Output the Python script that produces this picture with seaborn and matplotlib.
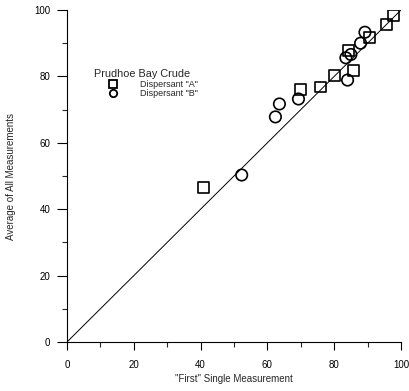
import matplotlib
matplotlib.use("Agg")
import matplotlib.pyplot as plt
import seaborn as sns
import pandas as pd
from matplotlib.ticker import MultipleLocator
from matplotlib.lines import Line2D

sns.set_style("white")
plt.rcParams['font.family'] = ['Liberation Sans', 'DejaVu Sans']

a_first = [97.7, 95.7, 90.7, 84.4, 85.7, 80.2, 76.0, 69.8, 40.9]
a_avg   = [98.3, 95.7, 91.8, 87.7, 81.9, 80.2, 76.8, 76.1, 46.6]
b_first = [89.2, 87.9, 85.0, 83.5, 84.0, 69.3, 63.6, 62.4, 52.3]
b_avg   = [93.3, 90.0, 86.6, 85.6, 78.9, 73.2, 71.7, 67.8, 50.3]
line_x = [0, 100]
line_y = [0, 100]

df_a = pd.DataFrame({"first": a_first, "avg": a_avg})
df_b = pd.DataFrame({"first": b_first, "avg": b_avg})

fig = plt.figure(figsize=(4.09, 3.91), dpi=100)
ax = fig.add_axes([67/409, 49/391, 334/409, 332/391])

sns.lineplot(x=line_x, y=line_y, ax=ax, color="black", linewidth=0.7)
sns.scatterplot(data=df_a, x="first", y="avg", ax=ax, marker="s", s=62,
                facecolor="none", edgecolor="black", linewidth=1.2, zorder=3)
sns.scatterplot(data=df_b, x="first", y="avg", ax=ax, marker="o", s=68,
                facecolor="none", edgecolor="black", linewidth=1.2, zorder=3)

ax.set_xlim(0, 100)
ax.set_ylim(0, 100)
ax.xaxis.set_major_locator(MultipleLocator(20))
ax.xaxis.set_minor_locator(MultipleLocator(10))
ax.yaxis.set_major_locator(MultipleLocator(20))
ax.yaxis.set_minor_locator(MultipleLocator(10))
ax.tick_params(axis="both", which="major", direction="out", length=6, width=0.8,
               labelsize=7, colors="black", bottom=True, left=True)
ax.tick_params(axis="both", which="minor", direction="out", length=3.5, width=0.8,
               bottom=True, left=True)
ax.tick_params(axis="y", which="major", length=7.5, pad=4.5)
ax.tick_params(axis="x", which="major", pad=7)
for s in ["top", "right"]:
    ax.spines[s].set_visible(False)
for s in ["left", "bottom"]:
    ax.spines[s].set_color("black")
    ax.spines[s].set_linewidth(0.8)

ax.set_xlabel('"First" Single Measurement', fontsize=7, labelpad=3)
ax.set_ylabel("Average of All Measurements", fontsize=7, labelpad=13)

handles = [
    Line2D([], [], marker="s", linestyle="none", markersize=5.3, markerfacecolor="none",
           markeredgecolor="black", markeredgewidth=1.3, label='Dispersant "A"'),
    Line2D([], [], marker="o", linestyle="none", markersize=5.3, markerfacecolor="none",
           markeredgecolor="black", markeredgewidth=1.3, label='Dispersant "B"'),
]
leg = ax.legend(handles=handles, title="Prudhoe Bay Crude", loc="upper left",
                bbox_to_anchor=(0.081, 0.823), frameon=False, fontsize=6.5,
                title_fontsize=7.8, handletextpad=1.0, labelspacing=0.05,
                borderaxespad=0, borderpad=0, handlelength=4.1, alignment="left")
leg._legend_box.sep = 0.8

fig.savefig("out.png", dpi=100)
